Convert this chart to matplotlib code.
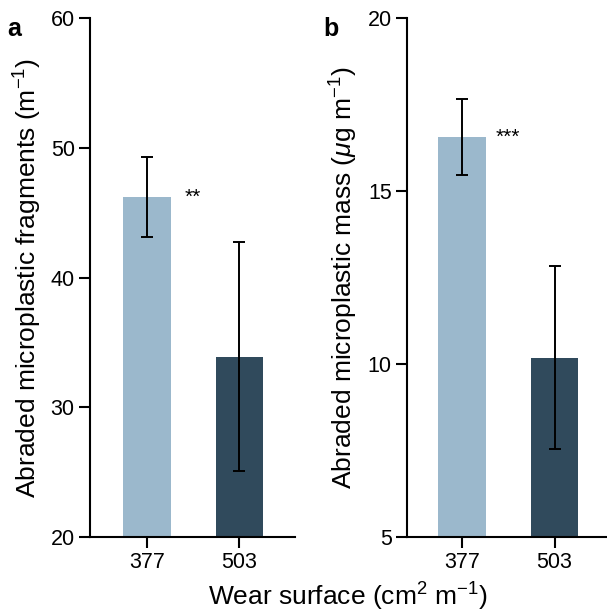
import matplotlib
matplotlib.use("Agg")
import matplotlib.pyplot as plt
import numpy as np

plt.rcParams['font.family'] = ['Liberation Sans', 'DejaVu Sans']
plt.rcParams['mathtext.fontset'] = 'custom'
plt.rcParams['mathtext.rm'] = 'Liberation Sans'
plt.rcParams['mathtext.it'] = 'Liberation Sans:italic'
plt.rcParams['mathtext.default'] = 'regular'

# Data
categories = ["377", "503"]
fragments_mean = [46.2, 33.9]
fragments_err = [3.05, 8.85]
mass_mean = [16.56, 10.18]
mass_err = [1.1, 2.65]
sig_a = "**"
sig_b = "***"
bar_colors = ["#9bb8cc", "#304a5c"]

W, H = 607, 613
fig = plt.figure(figsize=(W / 100, H / 100), dpi=100)

bottom = 1 - 537 / H
top = 1 - 18 / H
axa = fig.add_axes([90 / W, bottom, (295 - 90) / W, top - bottom])
axb = fig.add_axes([407 / W, bottom, (606 - 407) / W, top - bottom])

x = np.arange(len(categories))

def style(ax, ylim, yticks, xlim):
    ax.set_ylim(*ylim)
    ax.set_yticks(yticks)
    ax.set_xlim(*xlim)
    ax.set_xticks(x)
    ax.set_xticklabels(categories)
    for s in ["top", "right"]:
        ax.spines[s].set_visible(False)
    for s in ["left", "bottom"]:
        ax.spines[s].set_linewidth(1.5)
    ax.tick_params(axis='both', direction='out', length=8, width=1.5,
                   labelsize=15.5, pad=3)

for ax, mean, err, ylim, yticks, xlim, sig in [
    (axa, fragments_mean, fragments_err, (20, 60), [20, 30, 40, 50, 60], (-0.616, 1.6), sig_a),
    (axb, mass_mean, mass_err, (5, 20), [5, 10, 15, 20], (-0.595, 1.556), sig_b),
]:
    ax.bar(x, [m - ylim[0] for m in mean], bottom=ylim[0], width=0.51,
           color=bar_colors, zorder=2)
    ax.errorbar(x, mean, yerr=err, fmt='none', ecolor='black',
                elinewidth=1.4, capsize=4.5, capthick=1.4, zorder=3)
    ax.text(x[0] + 0.5, mean[0], sig, fontsize=15, ha='center', va='center')
    style(ax, ylim, yticks, xlim)

fig.text(28 / W, 1 - 278 / H, "Abraded microplastic fragments (m$^{-1}$)",
         rotation=90, ha='center', va='center', fontsize=19)
fig.text(344 / W, 1 - 278 / H, r"Abraded microplastic mass ($\mathit{\mu}$g m$^{-1}$)",
         rotation=90, ha='center', va='center', fontsize=19)
fig.text(348 / W, 1 - 606 / H, "Wear surface (cm$^{2}$ m$^{-1}$)",
         ha='center', va='baseline', fontsize=19)

fig.text(7 / W, 1 - 36 / H, "a", fontsize=18, fontweight='bold', va='baseline')
fig.text(323 / W, 1 - 36 / H, "b", fontsize=18, fontweight='bold', va='baseline')

fig.savefig("out.png", dpi=100)
